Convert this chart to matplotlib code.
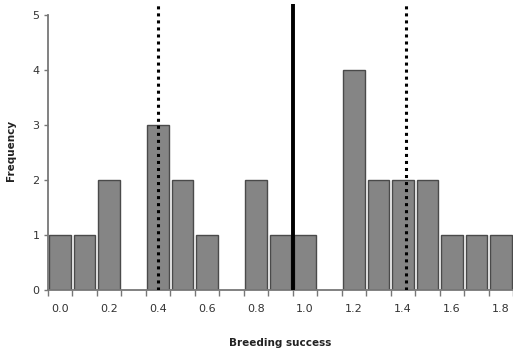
import matplotlib
matplotlib.use("Agg")
import matplotlib.pyplot as plt
import numpy as np

# histogram of breeding success (bins of 0.1)
bins = [0.0, 0.1, 0.2, 0.3, 0.4, 0.5, 0.6, 0.7, 0.8, 0.9,
        1.0, 1.1, 1.2, 1.3, 1.4, 1.5, 1.6, 1.7, 1.8]
freq = [1, 1, 2, 0, 3, 2, 1, 0, 2, 1,
        1, 0, 4, 2, 2, 2, 1, 1, 1]
mean_val = 0.95
ci_low = 0.40
ci_high = 1.413
tick_labels = ['0.0', '0.2', '0.4', '0.6', '0.8', '1.0', '1.2', '1.4', '1.6', '1.8']

fig = plt.figure(figsize=(5.13, 3.57), dpi=100)
ax = fig.add_axes([48/513, 1 - 290/357, 465/513, 286/357])

# empty bins get no bar
xs = [b for b, f in zip(bins, freq) if f > 0]
hs = [f for f in freq if f > 0]
ax.bar(xs, hs, width=0.088, color='#858585', edgecolor='#4a4a4a', linewidth=1.0, zorder=2)

ax.axvline(ci_low, color='black', lw=2.2, linestyle=(0, (1, 1.3)), zorder=3)
ax.axvline(ci_high, color='black', lw=2.2, linestyle=(0, (1, 1.3)), zorder=3)
ax.axvline(mean_val, color='black', lw=2.8, zorder=3)

ax.set_xlim(-0.05, 1.85)
ax.set_ylim(0, 5.2)

edges = np.arange(-0.05, 1.86, 0.1)
ax.set_xticks(edges)
ax.set_xticklabels([])
ax.set_xticks(bins[::2], minor=True)
ax.set_xticklabels(tick_labels, minor=True, fontsize=8, color='#333333')
ax.tick_params(axis='x', which='major', length=4, width=1, color='#777777', direction='out')
ax.tick_params(axis='x', which='minor', length=0, pad=10)

ax.set_yticks([0, 1, 2, 3, 4, 5])
ax.set_yticklabels(['0', '1', '2', '3', '4', '5'], fontsize=8, color='#333333')
ax.tick_params(axis='y', length=3, width=1, color='#777777', direction='out', pad=3)

for s in ['top', 'right']:
    ax.spines[s].set_visible(False)
ax.spines['left'].set_bounds(0, 5)
for s in ['left', 'bottom']:
    ax.spines[s].set_color('#777777')
    ax.spines[s].set_linewidth(1.3)

fig.text(280/513, 1 - 343/357, 'Breeding success', ha='center', va='center',
         fontsize=7.5, fontweight='bold', color='#222222')
fig.text(11/513, 1 - 150/357, 'Frequency', ha='center', va='center', rotation=90,
         fontsize=7.5, fontweight='bold', color='#222222')

fig.savefig('out.png', dpi=100)
